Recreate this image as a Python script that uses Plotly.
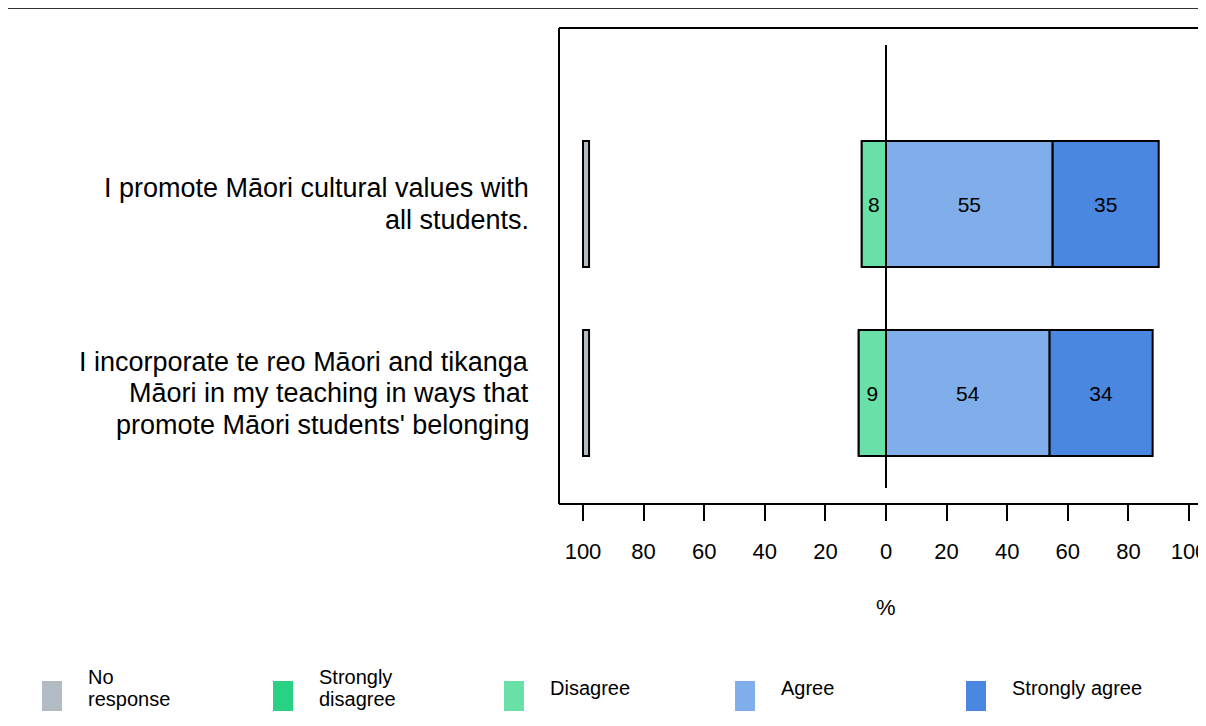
import plotly.graph_objects as go

# Survey items (top to bottom), one list of wrapped lines per item, and responses in %
items = [
    ["I promote Māori cultural values with", "all students."],
    ["I incorporate te reo Māori and tikanga", "Māori in my teaching in ways that",
     "promote Māori students' belonging"],
]
no_response = [2, 2]
strongly_disagree = [0, 0]
disagree = [8, 9]
agree = [55, 54]
strongly_agree = [35, 34]

categories = ["No response", "Strongly disagree", "Disagree", "Agree", "Strongly agree"]
legend_lines = [["No", "response"], ["Strongly", "disagree"], ["Disagree"], ["Agree"],
                ["Strongly agree"]]
colors = ["#b3bcc4", "#29d282", "#6ae0a9", "#80aeea", "#4a87e1"]
tick_vals = [-100, -80, -60, -40, -20, 0, 20, 40, 60, 80, 100]

FONT = "Liberation Sans, Arial, sans-serif"
# the page body adds an 8px offset, so work in page pixels and convert
OFF = 8
W, H = 1206 - OFF, 726 - 2 * OFF
L, T = 559 - OFF, 28 - OFF
PW, PH = 647, 476
R, B = W - L - PW, H - T - PH
ZERO_PX, PX_PER_UNIT = 886, 3.03
ROW_PX = 189  # distance between the two rows


def px(x):
    return (x - OFF - L) / PW


def py(y):
    return (T + PH - (y - OFF)) / PH


ypos = list(range(len(items) - 1, -1, -1))

fig = go.Figure()


def add_bar(vals, base, color, name, labels=True):
    fig.add_trace(go.Bar(
        y=ypos,
        x=vals,
        base=base,
        orientation="h",
        width=126 / ROW_PX,
        name=name,
        marker=dict(color=color, line=dict(color="black", width=2)),
        text=[str(v) if (labels and v > 0) else "" for v in vals],
        textposition="inside",
        insidetextanchor="middle",
        textangle=0,
        constraintext="none",
        textfont=dict(color="black", size=21, family=FONT),
        showlegend=False,
        hoverinfo="skip",
    ))


add_bar(no_response, [-100] * len(items), colors[0], categories[0], labels=False)
add_bar(strongly_disagree, [-(a + b) for a, b in zip(strongly_disagree, disagree)],
        colors[1], categories[1])
add_bar(disagree, [-d for d in disagree], colors[2], categories[2])
add_bar(agree, [0] * len(items), colors[3], categories[3])
add_bar(strongly_agree, agree, colors[4], categories[4])

shapes = [
    # frame (right edge falls outside the page)
    dict(type="line", xref="paper", yref="paper", x0=0, x1=1, y0=1, y1=1,
         line=dict(color="black", width=2)),
    dict(type="line", xref="paper", yref="paper", x0=0, x1=1, y0=0, y1=0,
         line=dict(color="black", width=2)),
    dict(type="line", xref="paper", yref="paper", x0=0, x1=0, y0=0, y1=1,
         line=dict(color="black", width=2)),
    # zero line
    dict(type="line", xref="x", yref="paper", x0=0, x1=0, y0=py(488), y1=py(45),
         line=dict(color="black", width=2), layer="above"),
    # thin rule at the top of the page
    dict(type="line", xref="paper", yref="paper", x0=px(0), x1=1.02, y0=py(8.5), y1=py(8.5),
         line=dict(color="#333333", width=1)),
]

annotations = []
line_step = 31.5 / ROW_PX
for lines, yv in zip(items, ypos):
    n = len(lines)
    for k, line in enumerate(lines):
        annotations.append(dict(
            xref="paper", yref="y", x=px(531), y=yv + ((n - 1) / 2 - k) * line_step,
            xanchor="right", yanchor="middle", text=line, showarrow=False,
            font=dict(size=27, color="black", family=FONT),
        ))

annotations.append(dict(
    xref="x", yref="paper", x=0, y=py(607), text="%", showarrow=False,
    xanchor="center", yanchor="middle", font=dict(size=22, color="black", family=FONT),
))

# custom legend along the bottom
for i, (lines, col) in enumerate(zip(legend_lines, colors)):
    x0 = 42 + i * 231
    shapes.append(dict(type="rect", xref="paper", yref="paper",
                       x0=px(x0), x1=px(x0 + 20), y0=py(711), y1=py(681),
                       fillcolor=col, line=dict(width=0)))
    n = len(lines)
    for k, line in enumerate(lines):
        annotations.append(dict(
            xref="paper", yref="paper", x=px(x0 + 44),
            y=py(688 - ((n - 1) / 2 - k) * 23), xanchor="left", yanchor="middle",
            text=line, showarrow=False,
            font=dict(size=20, color="black", family=FONT),
        ))

fig.update_layout(
    width=W,
    height=H,
    margin=dict(l=L, r=R, t=T, b=B, pad=0),
    barmode="overlay",
    plot_bgcolor="white",
    paper_bgcolor="white",
    font=dict(family=FONT, color="black"),
    xaxis=dict(
        range=[(559 - ZERO_PX) / PX_PER_UNIT, (559 + PW - ZERO_PX) / PX_PER_UNIT],
        tickvals=tick_vals,
        ticktext=[str(abs(v)) for v in tick_vals],
        ticks="outside",
        ticklen=16,
        tickwidth=2,
        tickcolor="black",
        ticklabelstandoff=12,
        ticklabeloverflow="allow",
        tickfont=dict(size=22, color="black", family=FONT),
        showgrid=False,
        zeroline=False,
        showline=False,
        fixedrange=True,
    ),
    yaxis=dict(
        range=[-(504 - 393) / ROW_PX, 1 + (204 - 28) / ROW_PX],
        showticklabels=False,
        ticks="",
        showgrid=False,
        zeroline=False,
        showline=False,
        fixedrange=True,
    ),
    shapes=shapes,
    annotations=annotations,
)

fig.write_html("out.html")
